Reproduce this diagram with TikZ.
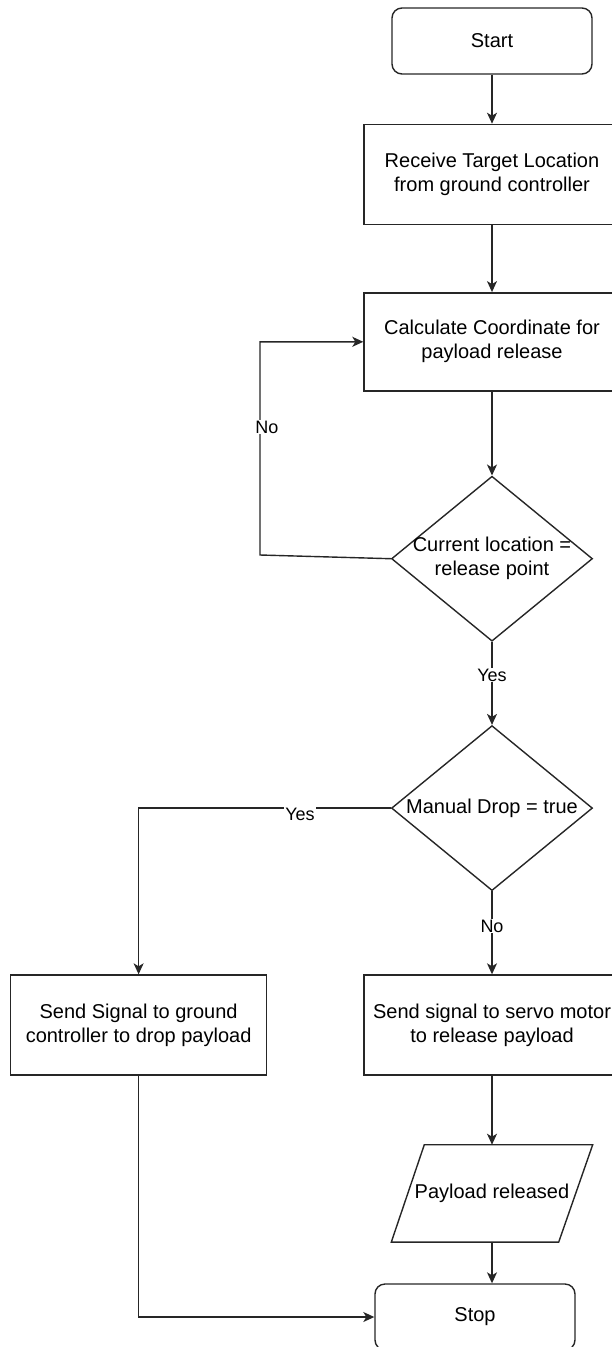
\documentclass[tikz,border=0pt]{standalone}
\usepackage{fontspec}
\setmainfont{Liberation Sans}
\usetikzlibrary{positioning, shapes.geometric, arrows.meta}
\definecolor{linecol}{HTML}{262626}

\begin{document}
\begin{tikzpicture}[x=1pt, y=-1pt, line width=1.4pt,
	font=\fontsize{20}{24}\selectfont,
	terminal/.style={rectangle, draw=linecol, rounded corners=10pt, minimum width=200, minimum height=66},
	process/.style={rectangle, draw=linecol, minimum width=256, minimum height=100, align=center, inner sep=0pt},
	decision/.style={diamond, draw=linecol, minimum width=201, minimum height=165, inner sep=0pt},
	iobox/.style={rectangle, minimum width=200, minimum height=96, inner sep=0pt},
	flow/.style={draw=linecol, -{Stealth[length=11pt, width=10pt, inset=3pt]}},
	lbl/.style={fill=white, inner sep=1pt, font=\fontsize{18}{22}\selectfont}]
	\useasboundingbox (0,0) rectangle (611,1347);

	\node[terminal] (start) at (492,41) {Start};
	\node[process, below=49pt of start] (recv) {Receive Target Location\\from ground controller};
	\node[process, minimum height=98, below=67pt of recv] (calc) {Calculate Coordinate for\\payload release};
	\node[decision, below=84pt of calc] (atpoint) {};
	\node[align=center] (atpointtxt) at (atpoint) {Current location =\\release point};
	\node[decision, below=83pt of atpoint] (manual) {};
	\node (manualtxt) at (manual) {Manual Drop = true};
	\node[process, below=83pt of manual] (servo) {Send signal to servo motor\\to release payload};
	\node[process, left=96pt of servo] (signal) {Send Signal to ground\\controller to drop payload};
	\node[iobox, below=69pt of servo] (released) {Payload released};
	\node[terminal] (stop) at (475,1317) {Stop};

	% slanted input/output box
	\draw[linecol] (released.south west) -- ([xshift=-34pt]released.south east) -- (released.north east) -- ([xshift=33pt]released.north west) -- cycle;

	\coordinate (loopcorner) at (260,555);

	\draw[flow] (start) -- (recv);
	\draw[flow] (recv) -- (calc);
	\draw[flow] (calc) -- (atpoint);
	\draw[flow] (atpoint.west) -- (loopcorner) |- node[lbl, pos=0.3, xshift=7pt] {No} (calc.west);
	\draw[flow] (atpoint) -- node[lbl, pos=0.4] {Yes} (manual);
	\draw[flow] (manual.west) -| node[lbl, pos=0.18, yshift=-6pt] {Yes} (signal.north);
	\draw[flow] (manual) -- node[lbl, pos=0.42] {No} (servo);
	\draw[flow] (servo) -- (released);
	\draw[flow] (released.south) -- (released.south |- stop.north);
	\draw[flow] (signal.south) |- (stop.west);
\end{tikzpicture}
\end{document}
